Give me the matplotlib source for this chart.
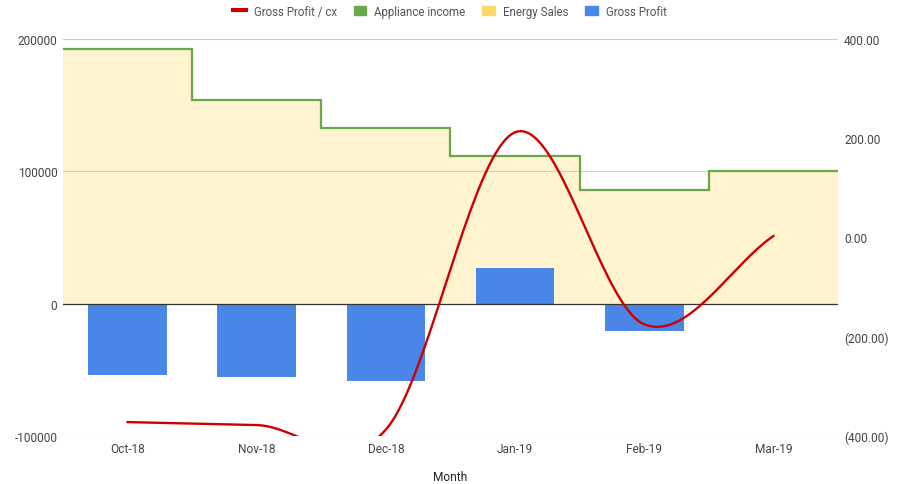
import numpy as np
import matplotlib
matplotlib.use("Agg")
import matplotlib.pyplot as plt
from matplotlib.lines import Line2D
from matplotlib.patches import Patch
from matplotlib.ticker import FuncFormatter

months = ["Oct-18", "Nov-18", "Dec-18", "Jan-19", "Feb-19", "Mar-19"]
energy_sales = [192500, 154200, 132800, 111700, 86000, 100000]
appliance_income = [0, 0, 0, 0, 0, 0]
gross_profit = [-53600, -55100, -58100, 27200, -20400, -600]
gp_per_cx = [-372, -378, -387, 212, -175, 3]

plt.rcParams['font.family'] = ['Roboto', 'DejaVu Sans']

RED = "#cc0000"
GREEN = "#6aa84f"
YELLOW = "#ffd966"
BLUE = "#4a86e8"
TXT = "#444444"

def catmull(y, n=40):
    # smooth curve through the points, like the "function" curve type
    y = np.asarray(y, float)
    m = len(y)
    t = np.zeros(m)
    for i in range(m):
        if i == 0:
            t[i] = y[1] - y[0]
        elif i == m - 1:
            t[i] = y[-1] - y[-2]
        else:
            t[i] = (y[i + 1] - y[i - 1]) / 2
    xs, ys = [], []
    for i in range(m - 1):
        s = np.linspace(0, 1, n, endpoint=False)
        h00 = 2*s**3 - 3*s**2 + 1
        h10 = s**3 - 2*s**2 + s
        h01 = -2*s**3 + 3*s**2
        h11 = s**3 - s**2
        xs.append(i + s)
        ys.append(h00*y[i] + h10*t[i] + h01*y[i+1] + h11*t[i+1])
    xs.append([m - 1])
    ys.append([y[-1]])
    return np.concatenate(xs), np.concatenate(ys)

fig = plt.figure(figsize=(9, 4.85), dpi=100)
ax = fig.add_axes([0.07, 0.099, 0.8611, 0.8186])
ax2 = ax.twinx()

x = np.arange(len(months))
edges = np.arange(len(months) + 1) - 0.5
top = np.array(energy_sales) + np.array(appliance_income)

ax.stairs(energy_sales, edges, baseline=0, fill=True, color=YELLOW, alpha=0.3, lw=0, zorder=1)
ax.stairs(energy_sales, edges, baseline=None, color=YELLOW, lw=1.5, zorder=2)
ax.stairs(top, edges, baseline=None, color=GREEN, lw=1.6, zorder=3)
ax.bar(x, gross_profit, width=0.61, color=BLUE, zorder=4)

for v in [200000, 100000, -100000]:
    ax.axhline(v, color="#cccccc", lw=0.8, zorder=0.5)
ax.axhline(0, color="#333333", lw=0.9, zorder=5)

ax.set_xlim(-0.5, len(months) - 0.5)
ax.set_ylim(-100000, 200000)
ax.set_yticks([-100000, 0, 100000, 200000])
ax.set_yticklabels(["-100000", "0", "100000", "200000"])
ax.set_xticks(x)
ax.set_xticklabels(months)

cx, cy = catmull(gp_per_cx)
ax2.plot(cx, cy, color=RED, lw=1.7, zorder=6)
ax2.set_ylim(-400, 400)
ax2.set_yticks([-400, -200, 0, 200, 400])
ax2.yaxis.set_major_formatter(FuncFormatter(
    lambda v, p: "({:.2f})".format(-v) if v < 0 else "{:.2f}".format(v)))
ax2.patch.set_visible(False)

for a in (ax, ax2):
    for s in a.spines.values():
        s.set_visible(False)
    a.tick_params(length=0, labelsize=8.6, colors=TXT)
ax.tick_params(axis="y", pad=4)
ax2.tick_params(axis="y", pad=4.5)
ax.tick_params(axis="x", pad=4)

fig.text(0.5, 1 - 478 / 485, "Month", ha="center", va="center", fontsize=8.6, color="#222222")

handles = [
    Line2D([], [], color=RED, lw=3),
    Patch(color=GREEN),
    Patch(color=YELLOW),
    Patch(color=BLUE),
]
labels = ["Gross Profit / cx", "Appliance income", "Energy Sales", "Gross Profit"]
fig.legend(handles, labels, loc="upper center", bbox_to_anchor=(0.5, 1.01), ncol=4,
           frameon=False, fontsize=8.3, handlelength=1.1, handleheight=0.9,
           handletextpad=0.7, columnspacing=1.45, labelcolor="#555555")

fig.savefig("out.png", dpi=100)
